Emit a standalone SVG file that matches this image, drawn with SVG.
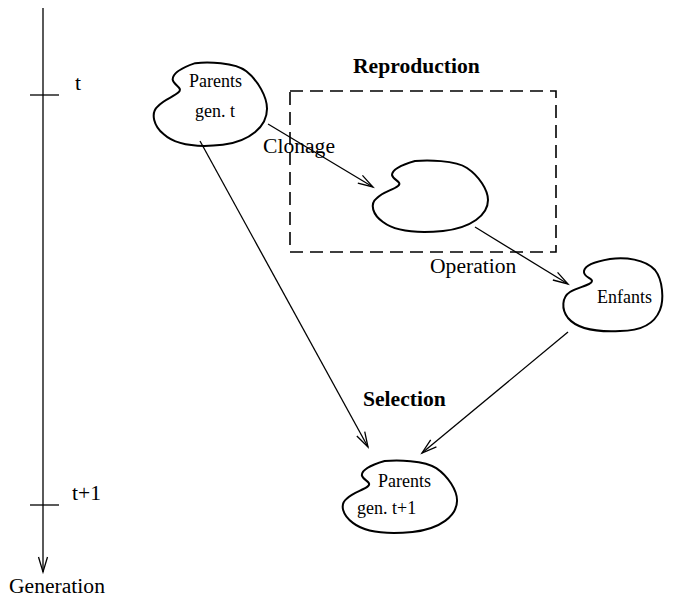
<svg xmlns="http://www.w3.org/2000/svg" xmlns:xlink="http://www.w3.org/1999/xlink" width="674" height="600" viewBox="0 0 674 600">
<style>
.blob{fill:none;stroke:#000;stroke-width:2;vector-effect:non-scaling-stroke}
.conn{fill:none;stroke:#000;stroke-width:1.3}
.node{font-family:"Liberation Serif","Times New Roman",serif;font-size:18px;fill:#000}
.lbl{font-family:"Liberation Serif","Times New Roman",serif;font-size:21.6px;fill:#000}
.bold{font-family:"Liberation Serif","Times New Roman",serif;font-size:21.6px;font-weight:bold;fill:#000}
.dash{fill:none;stroke:#000;stroke-width:1.6;stroke-dasharray:13 7}
</style>
<defs>
<marker id="arr" markerUnits="userSpaceOnUse" markerWidth="20" markerHeight="14" viewBox="-16 -7 18 14" refX="0" refY="0" orient="auto">
<path d="M-15,-4.5 L0,0 L-15,4.5" fill="none" stroke="#000" stroke-width="1.3"/>
</marker>
<path id="blobshape" class="blob" d="M44,1 C56,0 84,0 96,8 C108,16 117,30 117,40 C117,55 100,68 72,71 C50,73 25,72 12,62 C2,55 -2,44 6,38 C12,32 22,30 27,26 C32,22 22,20 21,15 C21,10 30,5 44,1 Z"/>
</defs>

<g id="timeline">
<line class="conn" x1="43" y1="8" x2="43" y2="572" marker-end="url(#arr)"/>
<line class="conn" x1="30" y1="95" x2="59" y2="95"/>
<line class="conn" x1="30" y1="505" x2="59" y2="505"/>
<text class="lbl" x="75" y="90">t</text>
<text class="lbl" x="72" y="500">t+1</text>
<text class="lbl" x="9" y="593">Generation</text>
</g>

<g id="reproduction-box">
<rect class="dash" x="290" y="91" width="266" height="161"/>
<text class="bold" x="353" y="73">Reproduction</text>
</g>

<g id="parents-t">
<use xlink:href="#blobshape" transform="translate(152,62) scale(0.983,1.167)"/>
<text class="node" x="189" y="87">Parents</text>
<text class="node" x="195" y="117">gen. t</text>
</g>

<g id="clone">
<use xlink:href="#blobshape" transform="translate(371,160)"/>
</g>

<g id="enfants">
<path class="blob" d="M610,259 C625,257 645,259 655,270 C663,280 664,300 660,310 C654,325 640,331 620,331 C600,332 578,330 568,318 C561,309 562,297 570,292 C578,287 592,285 592,281 C592,278 583,277 584,271 C585,265 598,261 610,259 Z"/>
<text class="node" x="597" y="303">Enfants</text>
</g>

<g id="parents-t1">
<use xlink:href="#blobshape" transform="translate(341,460) scale(0.992,1.014)"/>
<text class="node" x="378" y="487">Parents</text>
<text class="node" x="357" y="514">gen. t+1</text>
</g>

<g id="connectors">
<line class="conn" x1="268" y1="124" x2="373" y2="187" marker-end="url(#arr)"/>
<line class="conn" x1="200" y1="141" x2="368" y2="447" marker-end="url(#arr)"/>
<line class="conn" x1="475" y1="227" x2="568" y2="284" marker-end="url(#arr)"/>
<line class="conn" x1="568" y1="332" x2="422" y2="453" marker-end="url(#arr)"/>
<text class="lbl" x="263" y="153">Clonage</text>
<text class="lbl" x="430" y="273">Operation</text>
<text class="bold" x="363" y="406">Selection</text>
</g>
</svg>
